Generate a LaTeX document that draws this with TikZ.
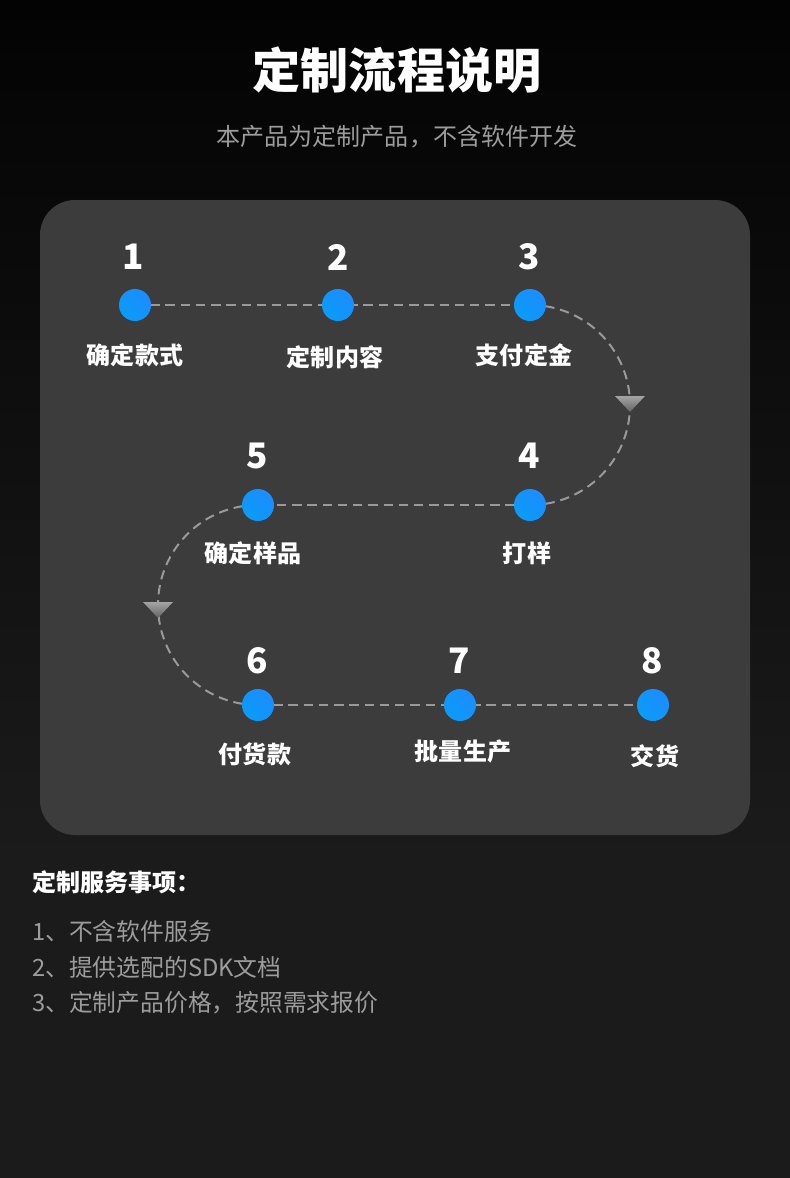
\documentclass[tikz,border=0pt]{standalone}
\usepackage{fontspec}
\setmainfont{Noto Sans CJK SC}
\usepackage{xcolor}
\usetikzlibrary{positioning,calc}

\definecolor{bgtop}{HTML}{030303}
\definecolor{bgbot}{HTML}{1B1B1B}
\definecolor{cardgray}{HTML}{3C3C3C}
\definecolor{flowgray}{HTML}{9A9A9A}
\definecolor{subgray}{HTML}{9C9C9C}
\definecolor{dotlight}{HTML}{1C8CFF}
\definecolor{dotdark}{HTML}{0A9CF8}

\tikzset{
    flow/.style={flowgray, line width=1.7pt, dash pattern=on 8pt off 5pt},
    dot/.style={circle, inner sep=0pt, minimum size=0.96cm,
        left color=dotlight, right color=dotdark, shading angle=-45},
    num/.style={text=white, font=\fontsize{30}{32}\selectfont\bfseries},
    steplbl/.style={text=white, font=\fontsize{20.5}{23}\selectfont\bfseries},
    notetext/.style={text=subgray, anchor=west, font=\fontsize{20.3}{23}\selectfont},
    pointer/.style={top color=flowgray!90!white, bottom color=cardgray!80!white}
}

\begin{document}
\begin{tikzpicture}[x=0.03cm, y=-0.03cm]
    % Background
    \useasboundingbox (0,0) rectangle (790,1178);
    \shade[top color=bgtop, bottom color=bgbot] (0,0) rectangle (790,860);
    \fill[bgbot] (0,859) rectangle (790,1178);

    % Title
    \node[text=white, font=\fontsize{41}{44}\selectfont\bfseries] (title) at (397,70) {定制流程说明};
    \node[text=subgray, font=\fontsize{20.5}{24}\selectfont] (subtitle) at (397,137) {本产品为定制产品，不含软件开发};

    % Card
    \fill[cardgray, rounded corners=1.05cm] (40,200) rectangle (750,835);

    % Turning points of the path
    \coordinate (t1) at (630,405);
    \coordinate (t2) at (158,605);

    % Steps
    \foreach \i/\x/\y in {1/135/305, 2/338/305, 3/530/305, 4/530/505,
                          5/258/505, 6/258/705, 7/460/705, 8/653/705} {
        \coordinate (d\i) at (\x,\y);
    }

    % Dashed path
    \draw[flow] (d1) -- (d2) -- (d3);
    \draw[flow] (d3) to[out=0, in=90] (t1) to[out=-90, in=0] (d4);
    \draw[flow] (d4) -- (d5);
    \draw[flow] (d5) to[out=180, in=90] (t2) to[out=-90, in=180] (d6);
    \draw[flow] (d6) -- (d7) -- (d8);

    % Pointers
    \shade[pointer] ($(t1)+(-15,-9)$) -- ($(t1)+(15,-9)$) -- ($(t1)+(0,7)$) -- cycle;
    \shade[pointer] ($(t2)+(-15,-3)$) -- ($(t2)+(15,-3)$) -- ($(t2)+(0,13)$) -- cycle;

    % Dots
    \foreach \i in {1,...,8} {
        \node[dot] (c\i) at (d\i) {};
    }

    % Numbers
    \node[num] (n1) at (133,257) {1};
    \node[num] (n2) at (338,257) {2};
    \node[num] (n3) at (529,257) {3};
    \node[num] (n4) at (529,456) {4};
    \node[num] (n5) at (257,456) {5};
    \node[num] (n6) at (257,661) {6};
    \node[num] (n7) at (459,661) {7};
    \node[num] (n8) at (652,661) {8};

    % Step names
    \node[steplbl] (l1) at (135,355) {确定款式};
    \node[steplbl] (l2) at (335,357) {定制内容};
    \node[steplbl] (l3) at (524,355) {支付定金};
    \node[steplbl] (l4) at (527,553) {打样};
    \node[steplbl] (l5) at (253,553) {确定样品};
    \node[steplbl] (l6) at (255,754) {付货款};
    \node[steplbl] (l7) at (463,751) {批量生产};
    \node[steplbl] (l8) at (655,756) {交货};

    % Service notes
    \node[text=white, anchor=west, font=\fontsize{20.5}{23}\selectfont\bfseries] (notes) at (28,882) {定制服务事项：};
    \node[notetext] (note1) at (28,931) {1、不含软件服务};
    \node[notetext] (note2) at (28,967) {2、提供选配的SDK文档};
    \node[notetext] (note3) at (28,1003) {3、定制产品价格，按照需求报价};
\end{tikzpicture}
\end{document}
